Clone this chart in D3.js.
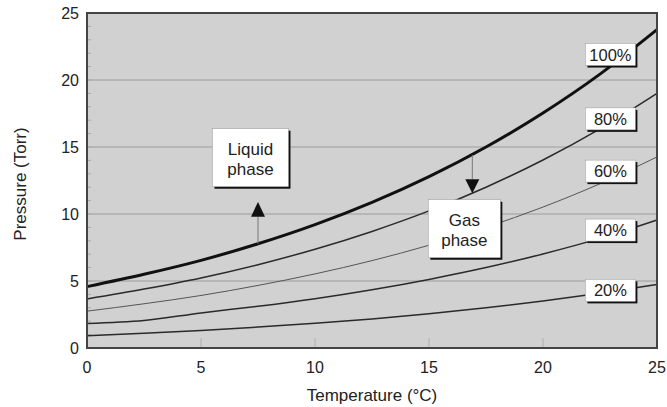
<!DOCTYPE html>
<html lang="en">
<head>
    <meta charset="utf-8" />
    <title>Vapor pressure</title>
    <script src="https://cdnjs.cloudflare.com/ajax/libs/d3/7.8.5/d3.min.js"></script>
    <style>
        body { margin: 0; background: white; }
        text { font-family: Arial, "Liberation Sans", sans-serif; fill: #222; }
    </style>
</head>
<body>
<div id="chart"></div>

<script>
    // temperatures (°C) where each curve was read
    const temps = [0, 2.5, 5, 7.5, 10, 12.5, 15, 17.5, 20, 22.5, 25];

    // pressure (Torr)
    const rh100 = [4.58, 5.50, 6.54, 7.78, 9.21, 10.87, 12.79, 15.00, 17.54, 20.44, 23.76];
    const rh80  = [3.66, 4.40, 5.23, 6.22, 7.37, 8.70, 10.23, 12.00, 14.03, 16.35, 19.00];
    const rh60  = [2.75, 3.30, 3.92, 4.67, 5.53, 6.52, 7.67, 9.00, 10.52, 12.26, 14.26];
    const rh40  = [1.83, 2.05, 2.62, 3.11, 3.68, 4.35, 5.12, 6.00, 7.02, 8.18, 9.55];
    const rh20  = [0.92, 1.10, 1.31, 1.56, 1.84, 2.17, 2.56, 3.00, 3.51, 4.09, 4.75];

    const seriesNames = ["100%", "80%", "60%", "40%", "20%"];
    // where the label boxes sit, in data units
    const labelTemp = [23, 23, 23, 23, 23];
    const labelPress = [21.9, 17.1, 13.2, 8.8, 4.3];

    const xTicks = [0, 5, 10, 15, 20, 25];
    const yTicks = [0, 5, 10, 15, 20, 25];

    const width = 667, height = 407;
    const margin = {top: 13, right: 10, bottom: 59, left: 87};

    const svg = d3.select("#chart").append("svg")
        .attr("width", width)
        .attr("height", height);

    const x = d3.scaleLinear().domain([0, 25]).range([margin.left, width - margin.right]);
    const y = d3.scaleLinear().domain([0, 25]).range([height - margin.bottom, margin.top]);

    // plot background
    svg.append("rect")
        .attr("x", x(0)).attr("y", y(25))
        .attr("width", x(25) - x(0)).attr("height", y(0) - y(25))
        .attr("fill", "#d1d1d1");

    // horizontal grid
    svg.append("g")
        .selectAll("line")
        .data(yTicks.filter(d => d > 0 && d < 25))
        .join("line")
        .attr("x1", x(0)).attr("x2", x(25))
        .attr("y1", d => y(d)).attr("y2", d => y(d))
        .attr("stroke", "#9c9c9c").attr("stroke-width", 1);

    // minor ticks on y, inside
    svg.append("g")
        .selectAll("line")
        .data(d3.range(1, 25))
        .join("line")
        .attr("x1", x(0)).attr("x2", x(0) + 4)
        .attr("y1", d => y(d)).attr("y2", d => y(d))
        .attr("stroke", "#a8a8a8");

    // ticks on x, inside
    svg.append("g")
        .selectAll("line")
        .data(xTicks.filter(d => d > 0 && d < 25))
        .join("line")
        .attr("x1", d => x(d)).attr("x2", d => x(d))
        .attr("y1", y(0)).attr("y2", y(0) - 10)
        .attr("stroke", "#b0b0b0");

    const line = d3.line()
        .x((d, i) => x(temps[i]))
        .y(d => y(d))
        .curve(d3.curveMonotoneX);

    const curves = [rh100, rh80, rh60, rh40, rh20];
    const strokes = [3, 1.5, 1, 1.5, 1.5];
    const colors = ["#111", "#2a2a2a", "#555", "#2a2a2a", "#2a2a2a"];

    svg.append("g")
        .selectAll("path")
        .data(curves)
        .join("path")
        .attr("d", line)
        .attr("fill", "none")
        .attr("stroke", (d, i) => colors[i])
        .attr("stroke-width", (d, i) => strokes[i]);

    // helper for the white boxes with a dark drop shadow
    function box(cx, cy, w, h) {
        const g = svg.append("g");
        g.append("rect")
            .attr("x", cx - w / 2 + 2).attr("y", cy - h / 2 + 2)
            .attr("width", w).attr("height", h)
            .attr("fill", "#111");
        g.append("rect")
            .attr("x", cx - w / 2).attr("y", cy - h / 2)
            .attr("width", w).attr("height", h)
            .attr("fill", "white").attr("stroke", "#999").attr("stroke-width", 0.5);
        return g;
    }

    // percent labels
    seriesNames.forEach((name, i) => {
        const cx = x(labelTemp[i]), cy = y(labelPress[i]);
        const g = box(cx - 1, cy, 50, 22);
        g.append("text")
            .attr("x", cx - 1).attr("y", cy + 6)
            .attr("text-anchor", "middle")
            .attr("font-size", 16.5)
            .text(name);
    });

    // phase arrows
    const liqT = 7.5, gasT = 16.9;
    svg.append("line")
        .attr("x1", x(liqT)).attr("x2", x(liqT))
        .attr("y1", y(7.78)).attr("y2", y(9.8))
        .attr("stroke", "#777");
    svg.append("path")
        .attr("d", `M${x(liqT) - 7},${y(9.8)} L${x(liqT) + 7},${y(9.8)} L${x(liqT)},${y(10.9)} Z`)
        .attr("fill", "#111");

    svg.append("line")
        .attr("x1", x(gasT)).attr("x2", x(gasT))
        .attr("y1", y(14.4)).attr("y2", y(12.6))
        .attr("stroke", "#777");
    svg.append("path")
        .attr("d", `M${x(gasT) - 7},${y(12.6)} L${x(gasT) + 7},${y(12.6)} L${x(gasT)},${y(11.55)} Z`)
        .attr("fill", "#111");

    // phase boxes
    const liqX = 7.17, liqY = 14.2;
    const liq = box(x(liqX), y(liqY), 76, 58);
    liq.append("text").attr("x", x(liqX)).attr("y", y(liqY) - 3)
        .attr("text-anchor", "middle").attr("font-size", 17).text("Liquid");
    liq.append("text").attr("x", x(liqX)).attr("y", y(liqY) + 17)
        .attr("text-anchor", "middle").attr("font-size", 17).text("phase");

    const gasX = 16.55, gasY = 8.9;
    const gas = box(x(gasX), y(gasY), 72, 58);
    gas.append("text").attr("x", x(gasX)).attr("y", y(gasY) - 3)
        .attr("text-anchor", "middle").attr("font-size", 17).text("Gas");
    gas.append("text").attr("x", x(gasX)).attr("y", y(gasY) + 17)
        .attr("text-anchor", "middle").attr("font-size", 17).text("phase");

    // frame
    svg.append("rect")
        .attr("x", x(0)).attr("y", y(25))
        .attr("width", x(25) - x(0)).attr("height", y(0) - y(25))
        .attr("fill", "none").attr("stroke", "#444").attr("stroke-width", 2);

    // tick labels
    svg.append("g")
        .selectAll("text")
        .data(xTicks)
        .join("text")
        .attr("x", d => x(d)).attr("y", y(0) + 25)
        .attr("text-anchor", "middle")
        .attr("font-size", 16)
        .text(d => d);

    svg.append("g")
        .selectAll("text")
        .data(yTicks)
        .join("text")
        .attr("x", x(0) - 8).attr("y", d => y(d) + 6)
        .attr("text-anchor", "end")
        .attr("font-size", 16)
        .text(d => d);

    // axis titles
    svg.append("text")
        .attr("x", (x(0) + x(25)) / 2).attr("y", 401)
        .attr("text-anchor", "middle")
        .attr("font-size", 17)
        .text("Temperature (°C)");

    svg.append("text")
        .attr("transform", `translate(26, ${184}) rotate(-90)`)
        .attr("text-anchor", "middle")
        .attr("font-size", 17)
        .text("Pressure (Torr)");
</script>
</body>
</html>
